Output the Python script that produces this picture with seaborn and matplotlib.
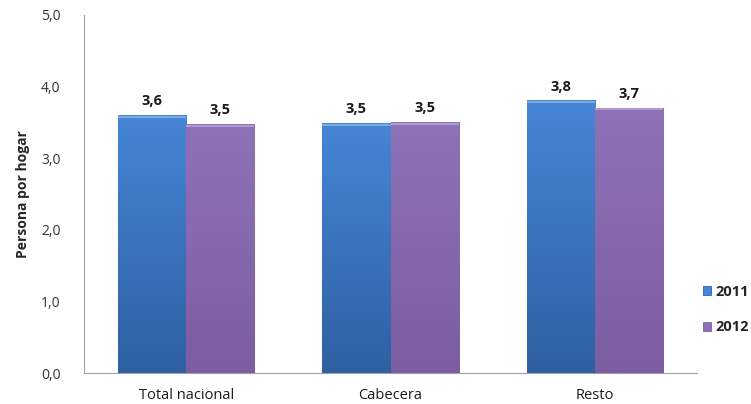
import numpy as np
import pandas as pd
import matplotlib
matplotlib.use("Agg")
import matplotlib.pyplot as plt
import seaborn as sns
from matplotlib.colors import LinearSegmentedColormap
from matplotlib.patches import Patch

# Data
categories = ["Total nacional", "Cabecera", "Resto"]
years = ["2011", "2012"]
values_2011 = [3.6, 3.49, 3.8]
values_2012 = [3.47, 3.5, 3.7]
y_ticks = [0, 1, 2, 3, 4, 5]

df = pd.DataFrame({
    "categoria": categories * 2,
    "anio": [years[0]] * 3 + [years[1]] * 3,
    "valor": values_2011 + values_2012,
})

sns.set_style("white")
plt.rcParams["font.family"] = ["Open Sans", "DejaVu Sans"]

blue_top, blue_bot = "#4686d6", "#2f60a2"
purp_top, purp_bot = "#8e72b8", "#7c5da2"

fig = plt.figure(figsize=(7.51, 4.04), dpi=100)
ax = fig.add_axes([0.1119, 0.0767, 0.8162, 0.8863])

sns.barplot(data=df, x="categoria", y="valor", hue="anio", order=categories,
            hue_order=years, palette=[blue_bot, purp_bot], width=0.667,
            ax=ax, legend=False, saturation=1)

# gradient fill over each bar
cmaps = {
    years[0]: LinearSegmentedColormap.from_list("b", [blue_bot, blue_top]),
    years[1]: LinearSegmentedColormap.from_list("p", [purp_bot, purp_top]),
}
grad = np.linspace(0, 1, 256).reshape(-1, 1)
for cont, yr in zip(ax.containers, years):
    for bar in cont:
        x, w, h = bar.get_x(), bar.get_width(), bar.get_height()
        bar.set_edgecolor("#5a5a70")
        bar.set_linewidth(0.6)
        ax.imshow(grad, extent=[x, x + w, 0, h], origin="lower", aspect="auto",
                  cmap=cmaps[yr], zorder=bar.get_zorder() + 0.1)
        ax.plot([x, x + w], [h - 0.02, h - 0.02], color="white", alpha=0.3, lw=1.5,
                zorder=bar.get_zorder() + 0.2, solid_capstyle="butt")
        ax.text(x + w / 2, h + 0.1, f"{h:.1f}".replace(".", ","),
                ha="center", va="bottom", fontsize=10.5, fontweight="bold",
                color="#1a1a1a")

ax.set_aspect("auto")
ax.set_xlim(-0.5, 2.5)
ax.set_ylim(0, 5)

ax.set_yticks(y_ticks)
ax.set_yticklabels([f"{t:.1f}".replace(".", ",") for t in y_ticks],
                   fontsize=10, color="#333333")
ax.set_xticks(range(len(categories)))
ax.set_xticklabels(categories, fontsize=10.5, color="#1a1a1a")
ax.set_xticks([-0.5, 0.5, 1.5, 2.5], minor=True)
ax.tick_params(axis="x", which="major", length=0, pad=11)
ax.tick_params(axis="x", which="minor", length=5, color="#a0a0a0", direction="out")
ax.tick_params(axis="y", length=5, color="#a0a0a0", direction="out", pad=12)

ax.set_xlabel("")
ax.set_ylabel("Persona por hogar", fontsize=10, fontweight="bold", labelpad=8)

for s in ["top", "right"]:
    ax.spines[s].set_visible(False)
for s in ["left", "bottom"]:
    ax.spines[s].set_color("#a0a0a0")
    ax.spines[s].set_linewidth(0.8)

handles = [Patch(facecolor=blue_top, edgecolor="#2f62a3", linewidth=0.6),
           Patch(facecolor=purp_top, edgecolor="#7d5ea3", linewidth=0.6)]
leg = fig.legend(handles, years, loc="center left", bbox_to_anchor=(0.936, 0.234),
                 frameon=False, handlelength=0.55, handleheight=0.55,
                 handletextpad=0.3, labelspacing=1.5, borderpad=0,
                 borderaxespad=0, prop={"weight": "bold", "size": 10.5})

fig.savefig("out.png", dpi=100)
